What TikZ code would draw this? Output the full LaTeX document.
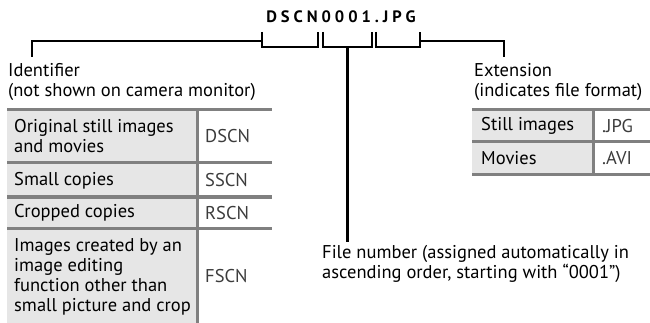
\documentclass[tikz,border=0pt]{standalone}
\usepackage{fontspec}
\setmainfont{PT Sans}
\newfontfamily\titlefont{PT Sans}[LetterSpace=24]
\usetikzlibrary{positioning}
\definecolor{TabLine}{RGB}{128,128,128}
\definecolor{TabFill}{RGB}{230,230,230}
\definecolor{CodeGray}{RGB}{60,60,60}
\begin{document}
\begin{tikzpicture}[x=1pt,y=-1pt,
  lbl/.style={inner sep=0pt,align=left,font=\fontsize{18.5}{20}\selectfont},
  code/.style={lbl,text=CodeGray},
  brk/.style={line width=2.4pt},
  rule/.style={TabLine,line width=3pt}]
\useasboundingbox (0,0) rectangle (650,323);
\node[inner sep=0pt,font=\titlefont\bfseries\fontsize{16.5}{18}\selectfont] (name) at (341,17) {DSCN0001.JPG};
% brackets under the name
\foreach \xa/\xb/\nm in {262/318/id, 323/372/num, 376/420/ext}{
  \draw[brk] (\xa,32) -- (\xa,47) -- (\xb,47) -- (\xb,32);
  \coordinate (\nm-mid) at ({(\xa+\xb)/2},47);
}
\coordinate (id-tick) at (262,41);
\coordinate (ext-tick) at (420,41);
\coordinate (id-end) at (32,57);
\coordinate (ext-end) at (504,57);
\coordinate (num-end) at (347.5,242);
\draw[brk] (id-tick) -| (id-end);
\draw[brk] (ext-tick) -| (ext-end);
\draw[brk] (num-mid) -- (num-end);
\node[lbl,anchor=north west] (idtxt) at (8,63) {Identifier\\(not shown on camera monitor)};
\node[lbl,anchor=north west] (exttxt) at (474,63) {Extension\\(indicates file format)};
\node[lbl,anchor=north west] (numtxt) at (322,245) {File number (assigned automatically in\\ascending order, starting with “0001”)};
% identifier table
\fill[TabFill] (7,111) rectangle (196,323);
\foreach \y in {110,163,197,228} \draw[rule] (7,\y) -- (272,\y);
\draw[rule] (197,110) -- (197,323);
\foreach \y/\a/\b [count=\i] in {136.5/{Original still images\\and movies}/DSCN,
  180.5/{Small copies}/SSCN, 213/{Cropped copies}/RSCN,
  276.5/{Images created by an\\image editing\\function other than\\small picture and crop}/FSCN}{
  \node[lbl,anchor=west] (idrow\i) at (14,\y) {\a};
  \node[code,anchor=west] (idcode\i) at (205,\y) {\b};
}
% extension table
\fill[TabFill] (472,111) rectangle (592,175);
\foreach \y in {110,142,175} \draw[rule] (472,\y) -- (650,\y);
\draw[rule] (593,110) -- (593,175);
\foreach \y/\a/\b [count=\i] in {126/{Still images}/.JPG, 158/Movies/.AVI}{
  \node[lbl,anchor=west] (extrow\i) at (481,\y) {\a};
  \node[code,anchor=west] (extcode\i) at (602,\y) {\b};
}
\end{tikzpicture}
\end{document}
